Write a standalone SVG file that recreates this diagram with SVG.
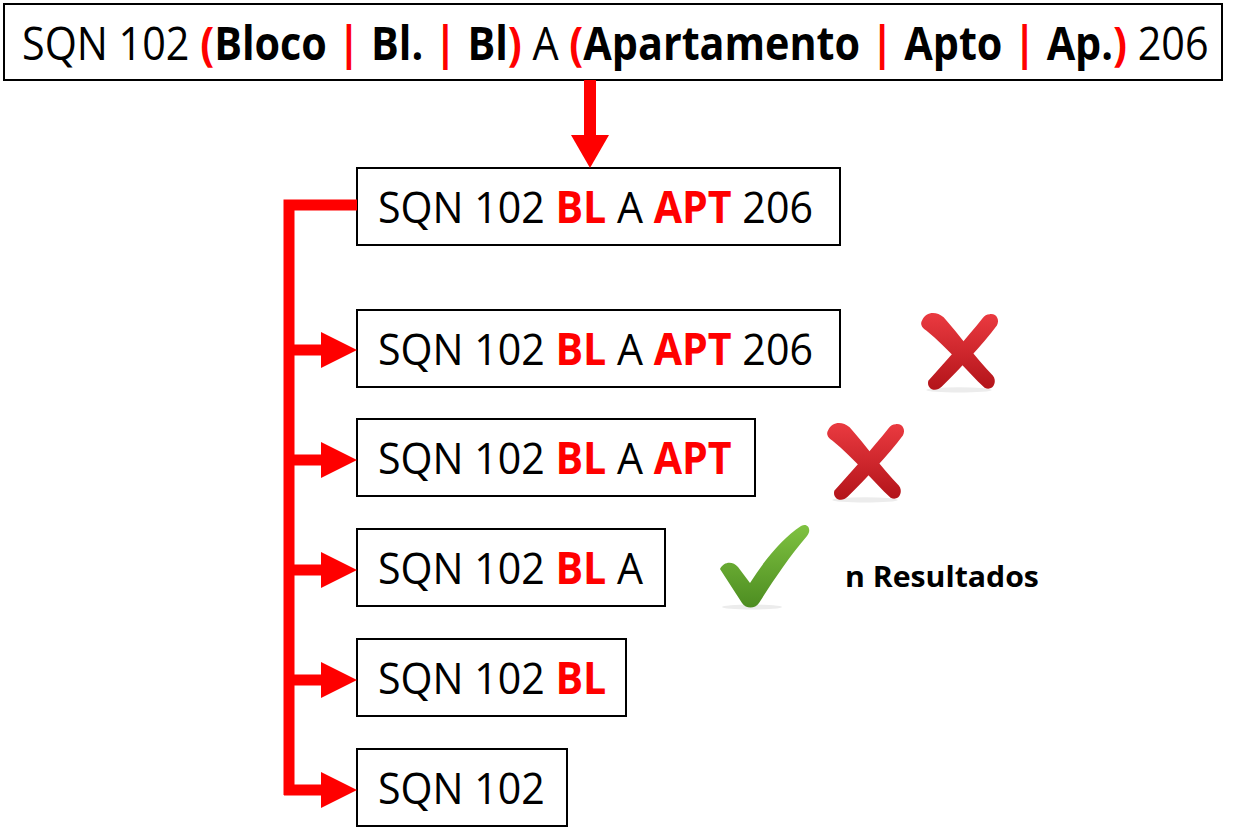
<svg xmlns="http://www.w3.org/2000/svg" width="1235" height="827" viewBox="0 0 1235 827">
<defs>
<style>
.box{fill:#fff;stroke:#000;stroke-width:2}
.t{font-family:"Open Sans","Noto Sans",sans-serif;fill:#000}
.r{fill:#ff0000;font-weight:bold}
.b{font-weight:bold}
.conn{fill:#ff0000;stroke:none}
.line{stroke:#ff0000;stroke-width:11;fill:none}
</style>
<linearGradient id="xg" x1="0" y1="0" x2="0" y2="1">
<stop offset="0" stop-color="#ea3a40"/>
<stop offset="1" stop-color="#b3141a"/>
</linearGradient>
<linearGradient id="cg" x1="0" y1="0" x2="0" y2="1">
<stop offset="0" stop-color="#7fc241"/>
<stop offset="1" stop-color="#4d8d21"/>
</linearGradient>
<symbol id="xmark" viewBox="0 0 80 84">
<ellipse cx="40" cy="80" rx="32" ry="2.5" fill="#ececec"/>
<path d="M4 12 C8 3 18 3 25 9 C40 26 56 48 73 66 C78 72 73 82 65 78 C48 62 30 40 8 22 C3 19 2 15 4 12 Z" fill="url(#xg)"/>
<path d="M70 6 C77 5 80 12 77 17 C62 37 42 58 23 77 C17 83 8 79 10 71 C28 51 48 29 63 10 C65 7 67 6 70 6 Z" fill="url(#xg)"/>
</symbol>
</defs>

<g id="top">
<rect class="box" x="4" y="4" width="1218" height="76"/>
<g transform="translate(22,60) scale(0.898,1)">
<text class="t" x="0" y="0" font-size="46">SQN 102 <tspan class="r">(</tspan><tspan class="b">Bloco </tspan><tspan class="r">|</tspan><tspan class="b"> Bl. </tspan><tspan class="r">|</tspan><tspan class="b"> Bl</tspan><tspan class="r">)</tspan> A <tspan class="r">(</tspan><tspan class="b">Apartamento </tspan><tspan class="r">|</tspan><tspan class="b"> Apto </tspan><tspan class="r">|</tspan><tspan class="b"> Ap.</tspan><tspan class="r">)</tspan> 206</text>
</g>
</g>

<g id="n1">
<rect class="box" x="357" y="168" width="483" height="77"/>
<g transform="translate(378,223) scale(0.935,1)"><text class="t" x="0" y="0" font-size="44">SQN 102 <tspan class="r">BL</tspan> A <tspan class="r">APT</tspan> 206</text></g>
</g>
<g id="n2">
<rect class="box" x="357" y="310" width="483" height="77"/>
<g transform="translate(378,365) scale(0.935,1)"><text class="t" x="0" y="0" font-size="44">SQN 102 <tspan class="r">BL</tspan> A <tspan class="r">APT</tspan> 206</text></g>
</g>
<g id="n3">
<rect class="box" x="357" y="419" width="398" height="77"/>
<g transform="translate(378,474) scale(0.935,1)"><text class="t" x="0" y="0" font-size="44">SQN 102 <tspan class="r">BL</tspan> A <tspan class="r">APT</tspan></text></g>
</g>
<g id="n4">
<rect class="box" x="357" y="529" width="308" height="77"/>
<g transform="translate(378,584) scale(0.935,1)"><text class="t" x="0" y="0" font-size="44">SQN 102 <tspan class="r">BL</tspan> A</text></g>
</g>
<g id="n5">
<rect class="box" x="357" y="639" width="269" height="77"/>
<g transform="translate(378,694) scale(0.935,1)"><text class="t" x="0" y="0" font-size="44">SQN 102 <tspan class="r">BL</tspan></text></g>
</g>
<g id="n6">
<rect class="box" x="357" y="749" width="210" height="77"/>
<g transform="translate(378,804) scale(0.935,1)"><text class="t" x="0" y="0" font-size="44">SQN 102</text></g>
</g>

<g id="connectors">
<rect class="conn" x="584" y="80" width="12" height="56"/>
<polygon class="conn" points="571,135 609,135 590,168"/>
<path class="line" d="M357 205 H289 V795"/>
<path class="line" d="M289 350 H324"/>
<polygon class="conn" points="321,332 357,350 321,368"/>
<path class="line" d="M289 460 H324"/>
<polygon class="conn" points="321,442 357,460 321,478"/>
<path class="line" d="M289 570 H324"/>
<polygon class="conn" points="321,552 357,570 321,588"/>
<path class="line" d="M289 680 H324"/>
<polygon class="conn" points="321,662 357,680 321,698"/>
<path class="line" d="M284 790 H324"/>
<polygon class="conn" points="321,772 357,790 321,808"/>
</g>

<g id="x1"><use href="#xmark" x="918" y="308" width="82" height="86"/></g>
<g id="x2"><use href="#xmark" x="824" y="418" width="82" height="86"/></g>

<g id="check">
<ellipse cx="752" cy="607" rx="30" ry="2.5" fill="#ececec"/>
<path d="M720 569 C724 561 733 561 738 567 L750 583 C765 559 783 538 801 526 C808 522 812 530 807 536 C789 557 773 581 759 603 C755 609 746 609 742 603 Z" fill="url(#cg)"/>
</g>

<g id="label">
<g transform="translate(845,587) scale(1.08,1)"><text class="t b" x="0" y="0" font-size="28">n Resultados</text></g>
</g>
</svg>
